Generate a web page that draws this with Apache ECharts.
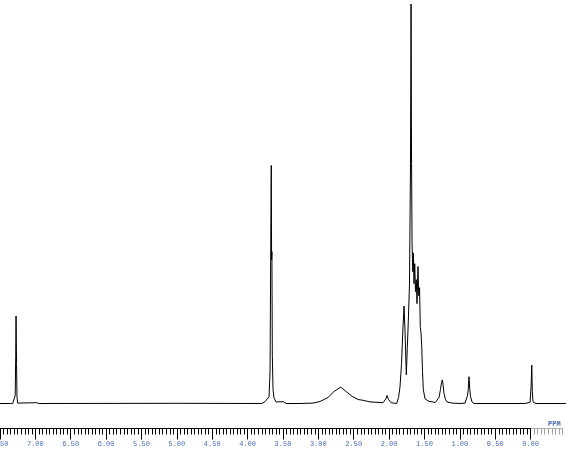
<!DOCTYPE html>
<html>
<head>
<meta charset="utf-8">
<script src="https://cdn.jsdelivr.net/npm/echarts@6/dist/echarts.min.js"></script>
<style>
html,body{margin:0;padding:0;background:#fff;}
#chart{width:571px;height:457px;}
</style>
</head>
<body>
<div id="chart"></div>
<script>
// chemical shift (ppm) and relative intensity
const ppm = [7.50, 7.35, 7.32, 7.30, 7.285, 7.278, 7.273, 7.266, 7.26, 7.25, 7.23, 6.98, 6.95, 5.00, 3.80,
  3.754, 3.733, 3.697, 3.683, 3.673, 3.666, 3.661, 3.657, 3.651, 3.641, 3.627, 3.599, 3.571, 3.495, 3.457,
  3.259, 3.076, 2.977, 2.864, 2.779, 2.684, 2.609, 2.524, 2.439, 2.369, 2.270, 2.086, 2.044, 2.030, 2.008, 1.973,
  1.893, 1.867, 1.846, 1.825, 1.804, 1.789, 1.775, 1.757, 1.743, 1.729, 1.712, 1.698, 1.690, 1.683, 1.676,
  1.666, 1.658, 1.648, 1.638, 1.627, 1.616, 1.606, 1.592, 1.582, 1.570, 1.559, 1.549, 1.539, 1.528, 1.517,
  1.493, 1.469, 1.436, 1.408, 1.380, 1.351, 1.323, 1.295, 1.274, 1.260, 1.248, 1.238, 1.224, 1.203, 1.182,
  1.111, 0.998, 0.927, 0.906, 0.892, 0.881, 0.871, 0.861, 0.850, 0.829, 0.800, 0.079, 0.008, -0.006, -0.016,
  -0.024, -0.034, -0.076, -0.50];
const intensity = [0, 0, 0, -0.15, 2, 12, 21.9, 10, 1.5, 0.1, 0, 0.2, 0, 0.05, 0,
  0.45, 0, 1.7, 8, 40, 59.6, 36, 38, 12, 3.5, 1.4, 0.4, 0, 0.45, 0,
  0, 0.1, 0.5, 1.5, 3.0, 4.1, 3.0, 1.8, 1.0, 0.8, 0.4, 0.2, 1.2, 2.0, 1.0, 0.2,
  0, 1.5, 4.2, 10, 19, 24.4, 18, 7.2, 14, 20.5, 30, 60, 100, 60, 40.3,
  33, 37.7, 30, 35, 28, 31, 25, 34.3, 27, 29, 19, 17.7, 14.3, 8, 3.5,
  1.2, 0.7, 0.5, 1.0, 0.4, 0.2, 0.5, 1.5, 3.5, 5.2, 5.9, 4.8, 2.5, 1.0, 0.4,
  0.1, 0, 0.1, 0.6, 2.0, 3.6, 6.7, 3.8, 1.8, 0.4, 0, 0, 0.3, 4, 9.6,
  3, 0.4, 0, 0];
// axis extents and ticks
const axisMax = 7.5, axisMin = 0, majorStep = 0.5, minorPerMajor = 10;
const extraMin = -0.45, extraStep = 0.05;
const axisTitle = 'PPM';

const chart = echarts.init(document.getElementById('chart'), null, {renderer: 'canvas'});
const pxPerPpm = 530.6 / (axisMax - axisMin);
const labelColor = '#4b6cb7';

chart.setOption({
  animation: false,
  backgroundColor: '#ffffff',
  grid: [
    {left: 0, right: 5, top: 4, bottom: 53.5, containLabel: false, outerBoundsMode: 'none'},
    {left: 0, right: 571 - 530.6, top: 0, bottom: 28.5, containLabel: false, outerBoundsMode: 'none'},
    {left: 530.6, right: 571 - (530.6 - extraMin * pxPerPpm), top: 0, bottom: 28.5, containLabel: false, outerBoundsMode: 'none'}
  ],
  xAxis: [
    {gridIndex: 0, type: 'value', inverse: true, min: -0.5, max: axisMax, show: false},
    {gridIndex: 1, type: 'value', inverse: true, min: axisMin, max: axisMax, interval: majorStep, z: 5,
     axisLine: {show: true, lineStyle: {color: '#000', width: 1}},
     axisTick: {show: true, length: 11, lineStyle: {color: '#000', width: 1}},
     minorTick: {show: true, splitNumber: minorPerMajor, length: 6, lineStyle: {color: '#000', width: 1}},
     splitLine: {show: false}, minorSplitLine: {show: false},
     axisLabel: {show: true, margin: 12, color: labelColor, fontFamily: 'Liberation Mono', fontSize: 7,
       showMinLabel: true, showMaxLabel: true, hideOverlap: false,
       formatter: v => v.toFixed(2)}
    },
    {gridIndex: 2, type: 'value', inverse: true, min: extraMin, max: 0, interval: extraStep, z: 2,
     axisLine: {show: true, lineStyle: {color: '#b0b0b0', width: 1}},
     axisTick: {show: true, length: 6, lineStyle: {color: '#a0a0a0', width: 1}},
     splitLine: {show: false},
     axisLabel: {show: false}
    }
  ],
  yAxis: [
    {gridIndex: 0, type: 'value', min: 0, max: 100, show: false},
    {gridIndex: 1, type: 'value', show: false},
    {gridIndex: 2, type: 'value', show: false}
  ],
  graphic: [
    {type: 'text', left: 548, top: 421, z: 10,
     style: {text: axisTitle, fill: labelColor, font: 'bold 7px "Liberation Mono"'}}
  ],
  series: [{
    type: 'line',
    xAxisIndex: 0, yAxisIndex: 0,
    data: ppm.map((p, i) => [p, intensity[i]]),
    showSymbol: false,
    clip: false,
    lineStyle: {color: '#000000', width: 1},
    silent: true
  }]
});
</script>
</body>
</html>
